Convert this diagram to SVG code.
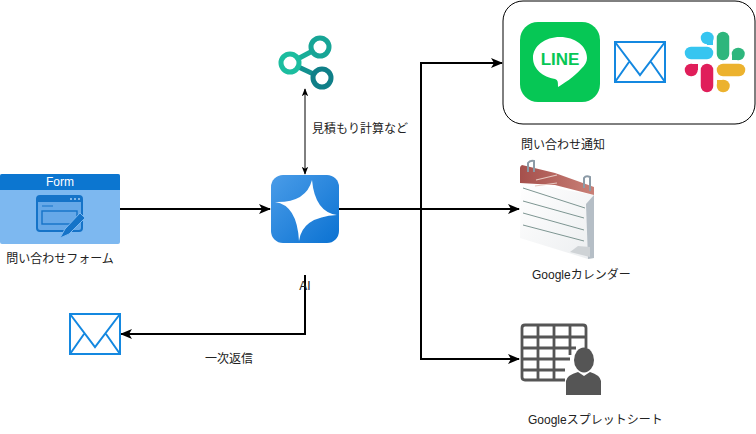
<svg xmlns="http://www.w3.org/2000/svg" width="756" height="434" viewBox="0 0 756 434">
<style>
text{font-family:"Liberation Sans","Noto Sans CJK JP",sans-serif;font-size:12px;fill:#222}
.m{text-anchor:middle}
.c{fill:none;stroke:#000;stroke-width:2}
.c1{fill:none;stroke:#000;stroke-width:1}
.env{fill:#fff;stroke:#1488e0;stroke-width:2}
.envl{fill:none;stroke:#1488e0;stroke-width:2}
.g{fill:none;stroke:#555;stroke-width:2.8}
.ln{stroke:#6f8a86;stroke-width:.9;fill:none}
</style>
<defs>
<marker id="a" markerWidth="8" markerHeight="10" refX="9" refY="4" orient="auto" markerUnits="userSpaceOnUse" viewBox="0 0 10 8"><path d="M0 0L10 4L0 8L2.5 4Z" fill="#000"/></marker>
<marker id="b" markerWidth="12" markerHeight="12" refX="11" refY="6" orient="auto" markerUnits="userSpaceOnUse" viewBox="0 0 12 12"><path d="M0 1L12 6L0 11L3 6Z" fill="#000"/></marker>
<marker id="as" markerWidth="8" markerHeight="10" refX="1" refY="4" orient="auto" markerUnits="userSpaceOnUse" viewBox="0 0 10 8"><path d="M10 0L0 4L10 8L7.5 4Z" fill="#000"/></marker>
<linearGradient id="ai" x1="0" y1="0" x2="1" y2="1"><stop offset="0" stop-color="#4a9ce8"/><stop offset="1" stop-color="#0b72d2"/></linearGradient>
<linearGradient id="red" x1="0" y1="0" x2="1" y2="0"><stop offset="0" stop-color="#a5504c"/><stop offset="1" stop-color="#c98077"/></linearGradient>
<linearGradient id="pg" x1="0" y1="0" x2="1" y2="1"><stop offset="0" stop-color="#fff"/><stop offset="1" stop-color="#eceef0"/></linearGradient>
</defs>
<g id="connectors">
<path class="c" d="M120 209H270" marker-end="url(#b)"/>
<path class="c1" d="M305 89V174" marker-end="url(#a)" marker-start="url(#as)"/>
<path class="c" d="M339 209H519" marker-end="url(#b)"/>
<path class="c" d="M421 209V63H502" marker-end="url(#b)"/>
<path class="c" d="M421 209V359H519" marker-end="url(#b)"/>
<path class="c" d="M305 275V334H121" marker-end="url(#b)"/>
</g>
<g id="form">
<rect x="0" y="174" width="120" height="70" rx="2" fill="#7db8f0"/>
<path d="M0 190V176a2 2 0 0 1 2-2H118a2 2 0 0 1 2 2V190Z" fill="#0c76d0"/>
<text class="m" x="60" y="186" style="fill:#fff">Form</text>
<rect x="37" y="196" width="45" height="35" rx="3" fill="#66a8e8" stroke="#1573c8" stroke-width="2"/>
<path d="M37 199a3 3 0 0 1 3-3H79a3 3 0 0 1 3 3V202H37Z" fill="#1573c8"/>
<path d="M70 199H72M74 199H76M78 199H80" stroke="#a8d0f4" stroke-width="1.4"/>
<rect x="42" y="211" width="35" height="13" fill="none" stroke="#1573c8" stroke-width="1.4"/>
<path d="M42 206H53" stroke="#1573c8" stroke-width="1"/>
<path d="M60 238L65 229L80 213L85 218L69 234Z" fill="#1573c8" stroke="#7db8f0" stroke-width="1"/>
<text class="m" x="60" y="263">問い合わせフォーム</text>
</g>
<g id="ai">
<rect x="271" y="175" width="68" height="68" rx="12" fill="url(#ai)"/>
<path d="M312 180Q306 203 275 202Q297 205 299 241Q302 217 337 215Q315 212 312 180Z" fill="#fff"/>
<text class="m" x="305" y="290">AI</text>
</g>
<g id="share">
<path d="M290 63L320 47" stroke="#18ad98" stroke-width="5"/>
<path d="M290 63L322 78" stroke="#12908f" stroke-width="5"/>
<circle cx="320" cy="47" r="9" fill="#fff" stroke="#17a596" stroke-width="5"/>
<circle cx="290" cy="63" r="9" fill="#fff" stroke="#1cbd9f" stroke-width="5"/>
<circle cx="322" cy="78" r="9" fill="#fff" stroke="#0f7f88" stroke-width="5"/>
</g>
<text x="312" y="133">見積もり計算など</text>
<g id="notify">
<rect x="503" y="1" width="252" height="123" rx="20" fill="#fff" stroke="#000"/>
<g id="line">
<rect x="520" y="22" width="80" height="80" rx="18" fill="#06c755"/>
<path d="M560 37C545 37 533 46 533 58C533 69 543 77 555 79C558 80 558 82 558 87C563 84 574 77 581 69C585 65 587 62 587 58C587 46 575 37 560 37Z" fill="#fff"/>
<text class="m" x="560" y="65" style="fill:#06c755;font-size:17px;font-weight:700">LINE</text>
</g>
<g id="mail1">
<rect x="615" y="42" width="50" height="40" class="env"/>
<path class="envl" d="M615 42L640 75L665 42M615 82L629 62M665 82L651 62"/>
</g>
<g id="slack" fill="none" stroke-width="12.5" stroke-linecap="round">
<path d="M707 53H691" stroke="#36c5f0"/>
<path d="M707 38H707.5" stroke="#36c5f0"/>
<path d="M707 38H713V45H707Z" fill="#36c5f0" stroke="none"/>
<path d="M723 38V54" stroke="#2eb67d"/>
<path d="M738 54H738.5" stroke="#2eb67d"/>
<path d="M738 54V60H732V54Z" fill="#2eb67d" stroke="none"/>
<path d="M723 70H739" stroke="#ecb22e"/>
<path d="M723 86H723.5" stroke="#ecb22e"/>
<path d="M723 86H717V80H723Z" fill="#ecb22e" stroke="none"/>
<path d="M707 70V86" stroke="#e01e5a"/>
<path d="M691 70H691.5" stroke="#e01e5a"/>
<path d="M691 70V64H698V70Z" fill="#e01e5a" stroke="none"/>
</g>
</g>
<text x="521" y="149">問い合わせ通知</text>
<g id="calendar">
<path d="M521 182L520 238L588 259L594 258L594 195Z" fill="url(#pg)"/>
<path d="M588 259L594 258L594 195L586 204Z" fill="#b5bec6"/>
<path d="M520 183V168Q520 166 522 165L555 173L594 187V195L555 185Z" fill="url(#red)"/>
<path d="M536 180L557 175M535 186L557 183" stroke="#e6c8c0" stroke-width="1.2"/>
<path class="ln" d="M523 188L585 208M523 201L584 218M523 213L584 230M523 225L584 241"/>
<path d="M528 172V163Q530 160 534 161V172M584 188V178Q586 175 590 177V191" fill="none" stroke="#8b9aa6" stroke-width="2"/>
<path d="M570 252L578 246L590 247V257Z" fill="#cfd3d6"/>
</g>
<text x="532" y="279">Googleカレンダー</text>
<g id="sheet">
<path class="g" d="M565 380H525Q522 380 522 377V328Q522 325 525 325H583Q586 325 586 328V348"/>
<path class="g" d="M522 337H586M522 348H576M522 359H570M522 370H565M538 325V380M554 325V380M570 325V355"/>
<ellipse cx="584" cy="360" rx="10" ry="12.5" fill="#555"/>
<path d="M566 395V381Q567 375 578 372L584 376L590 372Q600 375 601 381V395Z" fill="#555"/>
</g>
<text x="528" y="424">Googleスプレットシート</text>
<g id="mail2">
<rect x="70" y="314" width="50" height="40" class="env"/>
<path class="envl" d="M70 314L95 347L120 314M70 354L84 334M120 354L106 334"/>
</g>
<text x="205" y="363">一次返信</text>
</svg>
